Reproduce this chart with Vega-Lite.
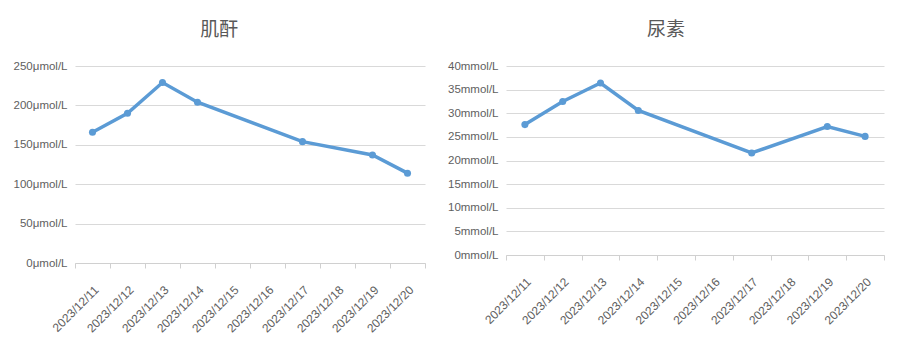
{
  "$schema": "https://vega.github.io/schema/vega-lite/v6.json",
  "background": "white",
  "padding": {"left": 13, "top": 21, "right": 5, "bottom": 5},
  "spacing": 21,
  "config": {
    "view": {"stroke": null},
    "font": "Liberation Sans",
    "axis": {"labelColor": "#606060", "labelFontSize": 11.5, "gridColor": "#d9d9d9", "domainColor": "#d0d0d0", "tickColor": "#d0d0d0", "title": null},
    "title": {"font": "Noto Sans CJK SC", "fontSize": 19, "fontWeight": "normal", "color": "#595959", "offset": 20, "anchor": "middle", "frame": "bounds"}
  },
  "datasets": {
    "crea": [
      {"date": "2023/12/11", "value": 166},
      {"date": "2023/12/12", "value": 190},
      {"date": "2023/12/13", "value": 229},
      {"date": "2023/12/14", "value": 204},
      {"date": "2023/12/17", "value": 154},
      {"date": "2023/12/19", "value": 137},
      {"date": "2023/12/20", "value": 114}
    ],
    "urea": [
      {"date": "2023/12/11", "value": 27.6},
      {"date": "2023/12/12", "value": 32.5},
      {"date": "2023/12/13", "value": 36.4},
      {"date": "2023/12/14", "value": 30.6},
      {"date": "2023/12/17", "value": 21.6},
      {"date": "2023/12/19", "value": 27.2},
      {"date": "2023/12/20", "value": 25.1}
    ]
  },
  "hconcat": [
    {
      "width": 350,
      "height": 197,
      "title": "肌酐",
      "data": {"name": "crea"},
      "layer": [
        {"mark": {"type": "line", "color": "#5b9bd5", "strokeWidth": 3.5}},
        {"mark": {"type": "point", "filled": true, "color": "#5b9bd5", "size": 50, "opacity": 1}}
      ],
      "encoding": {
        "x": {
          "field": "date", "type": "ordinal",
          "scale": {"type": "band", "paddingInner": 0, "paddingOuter": 0,
            "domain": ["2023/12/11","2023/12/12","2023/12/13","2023/12/14","2023/12/15","2023/12/16","2023/12/17","2023/12/18","2023/12/19","2023/12/20"]},
          "axis": {"labelAngle": -45, "labelFontSize": 12, "tickBand": "extent", "ticks": true, "tickSize": 5, "labelPadding": 16, "grid": false, "domain": true}
        },
        "y": {
          "field": "value", "type": "quantitative",
          "scale": {"domain": [0, 250], "nice": false},
          "axis": {"values": [0, 50, 100, 150, 200, 250], "labelExpr": "datum.value + 'μmol/L'", "ticks": false, "domain": false, "grid": true, "labelPadding": 8, "minExtent": 58, "maxExtent": 58}
        }
      }
    },
    {
      "width": 378,
      "height": 189,
      "title": "尿素",
      "data": {"name": "urea"},
      "layer": [
        {"mark": {"type": "line", "color": "#5b9bd5", "strokeWidth": 3.5}},
        {"mark": {"type": "point", "filled": true, "color": "#5b9bd5", "size": 50, "opacity": 1}}
      ],
      "encoding": {
        "x": {
          "field": "date", "type": "ordinal",
          "scale": {"type": "band", "paddingInner": 0, "paddingOuter": 0,
            "domain": ["2023/12/11","2023/12/12","2023/12/13","2023/12/14","2023/12/15","2023/12/16","2023/12/17","2023/12/18","2023/12/19","2023/12/20"]},
          "axis": {"labelAngle": -45, "labelFontSize": 12, "tickBand": "extent", "ticks": true, "tickSize": 5, "labelPadding": 16, "grid": false, "domain": true}
        },
        "y": {
          "field": "value", "type": "quantitative",
          "scale": {"domain": [0, 40], "nice": false},
          "axis": {"values": [0, 5, 10, 15, 20, 25, 30, 35, 40], "labelExpr": "datum.value + 'mmol/L'", "ticks": false, "domain": false, "grid": true, "labelPadding": 8, "minExtent": 58, "maxExtent": 58}
        }
      }
    }
  ]
}
